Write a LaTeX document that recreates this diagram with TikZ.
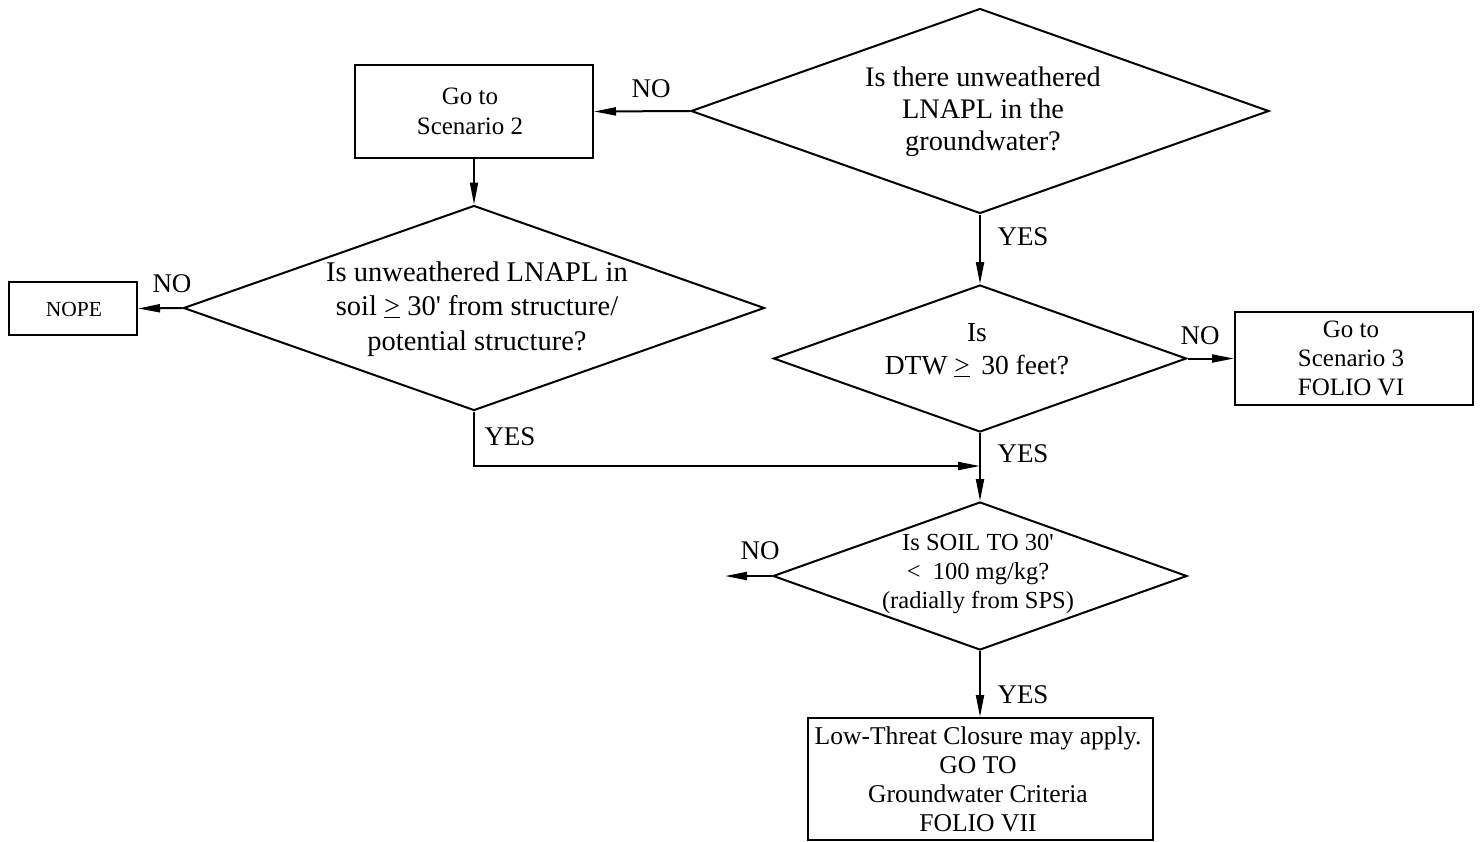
\documentclass[tikz,border=0pt]{standalone}
\usepackage{fontspec}
\setmainfont{Liberation Serif}
\usetikzlibrary{arrows.meta,shapes.geometric}
\newcommand{\myge}{\underline{>}}
\newcommand{\myap}{\textquotesingle}
\begin{document}
\begin{tikzpicture}[x=1pt,y=-1pt,
  line width=2pt,
  dia/.style={draw,shape=diamond,inner sep=0pt,line width=2pt},
  box/.style={draw,rectangle,inner sep=0pt,line width=2pt},
  txt/.style={align=center,inner sep=0pt},
  lbl/.style={inner sep=0pt,font=\fontsize{27}{30}\selectfont},
  arr/.style={-{Triangle[length=22pt,width=8pt]}}]
\useasboundingbox (0,0) rectangle (1481,841);
% diamond 1
\node[dia,minimum width=578pt,minimum height=205pt] (d1) at (980,111) {};
\node[txt,font=\fontsize{28.3}{32}\selectfont] (d1t) at (983,112) {Is there unweathered\\LNAPL in the\\groundwater?};
% box scenario 2
\node[box,minimum width=238pt,minimum height=93pt] (b2) at (474,111.5) {};
\node[txt,font=\fontsize{25}{30}\selectfont] (b2t) at (470,111) {Go to\\Scenario 2};
% diamond 2
\node[dia,minimum width=581pt,minimum height=205pt] (d2) at (474,308) {};
\node[txt,font=\fontsize{28.5}{34.5}\selectfont] (d2t) at (477,309) {Is unweathered LNAPL in\\soil \myge{} 30\myap{} from structure/\\potential structure?};
% NOPE
\node[box,minimum width=128pt,minimum height=53pt] (nope) at (73,308.5) {};
\node[txt,font=\fontsize{21.5}{24}\selectfont] (nopet) at (74,309) {NOPE};
% diamond 3
\node[dia,minimum width=413pt,minimum height=147pt] (d3) at (980,358.5) {};
\node[txt,font=\fontsize{27.5}{33}\selectfont] (d3t) at (977,350) {Is\\DTW \myge{}\, 30 feet?};
% box scenario 3
\node[box,minimum width=238pt,minimum height=93pt] (b3) at (1354,358.5) {};
\node[txt,font=\fontsize{25}{29}\selectfont] (b3t) at (1351,358) {Go to\\Scenario 3\\FOLIO VI};
% diamond 4
\node[dia,minimum width=414pt,minimum height=148pt] (d4) at (980,576) {};
\node[txt,font=\fontsize{24.5}{29}\selectfont] (d4t) at (978,574) {Is SOIL TO 30\myap\\\textless\ \ 100 mg/kg?\\(radially from SPS)};
\coordinate (d4no) at (725,576);
% final box
\node[box,minimum width=345pt,minimum height=122pt] (fin) at (980,779) {};
\node[txt,font=\fontsize{25.6}{29}\selectfont] (fint) at (978,779) {Low-Threat Closure may apply.\\GO TO\\Groundwater Criteria\\FOLIO VII};
% connectors
\draw[arr] (d1.west) -- (b2.east);
\draw[arr] (b2.south) -- (d2.north);
\draw[arr] (d2.west) -- (nope.east);
\draw[arr] (d1.south) -- (d3.north);
\draw[arr] (d3.east) -- (b3.west);
\draw[arr] (d3.south) -- (d4.north);
\draw[arr] (d4.west) -- (d4no);
\draw[arr] (d4.south) -- (fin.north);
\coordinate (join) at (d1.south |- 0,466);
\draw[arr] (d2.south) |- (join);
% labels
\node[lbl] (l1) at (651,89) {NO};
\node[lbl] (l2) at (172,284) {NO};
\node[lbl] (l3) at (510,437) {YES};
\node[lbl] (l4) at (1023,237) {YES};
\node[lbl] (l5) at (1200,336) {NO};
\node[lbl] (l6) at (1023,454) {YES};
\node[lbl] (l7) at (760,551) {NO};
\node[lbl] (l8) at (1023,695) {YES};
\end{tikzpicture}
\end{document}
